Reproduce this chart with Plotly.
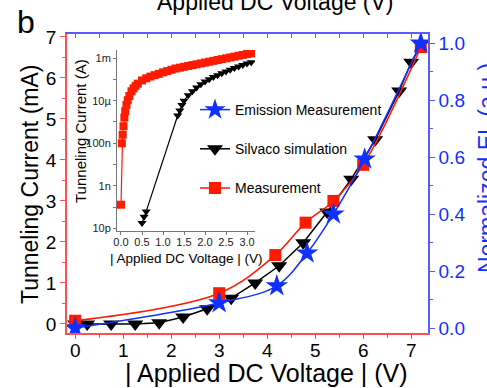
import plotly.graph_objects as go

# ---- main panel data ----
meas_v = [0.0, 3.0, 4.17, 4.8, 5.38, 6.0, 7.2]
meas_ma = [0.08, 0.75, 1.68, 2.47, 3.0, 3.88, 6.75]

sim_v = [0.0, 0.25, 0.75, 1.25, 1.75, 2.25, 2.75, 3.25, 3.75, 4.25, 4.75,
         5.25, 5.75, 6.25, 6.75, 7.0, 7.2]
sim_ma = [0.0, 0.0, 0.0, 0.0, 0.03, 0.17, 0.37, 0.63, 1.0, 1.42, 1.98,
          2.73, 3.53, 4.49, 5.68, 6.38, 6.8]

el_v = [0.0, 3.0, 4.2, 4.83, 5.38, 6.03, 7.2]
el_norm = [0.0, 0.088, 0.148, 0.263, 0.40, 0.593, 1.0]

# ---- inset (log current) data ----
ins_meas_v = [0.0, 0.02, 0.04, 0.06, 0.08, 0.10, 0.13, 0.16, 0.20, 0.25, 0.30,
              0.35, 0.40, 0.50, 0.60, 0.70, 0.80, 0.90, 1.00, 1.10, 1.20, 1.30,
              1.40, 1.50, 1.60, 1.70, 1.80, 1.90, 2.00, 2.10, 2.20, 2.30, 2.40,
              2.50, 2.60, 2.70, 2.80, 2.90, 3.00, 3.10]
ins_meas_a = [1.3e-10, 1.0e-7, 2.5e-7, 6.3e-7, 1.6e-6, 3.2e-6, 6.3e-6, 1.05e-5,
              1.66e-5, 2.75e-5, 3.8e-5, 5.0e-5, 6.3e-5, 8.9e-5, 1.12e-4, 1.35e-4,
              1.58e-4, 1.82e-4, 2.14e-4, 2.45e-4, 2.82e-4, 3.24e-4, 3.55e-4,
              3.89e-4, 4.27e-4, 4.68e-4, 5.13e-4, 5.62e-4, 6.17e-4, 6.76e-4,
              7.41e-4, 8.13e-4, 8.91e-4, 9.77e-4, 1.07e-3, 1.17e-3, 1.29e-3,
              1.41e-3, 1.55e-3, 1.66e-3]

ins_sim_v = [0.50, 0.55, 0.60, 1.35, 1.40, 1.45, 1.50, 1.60, 1.70, 1.80, 1.90,
             2.00, 2.10, 2.20, 2.30, 2.40, 2.50, 2.60, 2.70, 2.80, 2.90, 3.00, 3.10]
ins_sim_a = [1.8e-11, 3.5e-11, 6.3e-11, 2.0e-6, 3.5e-6, 6.3e-6, 1.0e-5, 1.78e-5,
             2.8e-5, 4.2e-5, 5.9e-5, 7.9e-5, 1.02e-4, 1.29e-4, 1.58e-4, 1.95e-4,
             2.34e-4, 2.82e-4, 3.39e-4, 3.98e-4, 4.68e-4, 5.5e-4, 6.3e-4]

ins_tickvals = [1e-11, 1e-10, 1e-9, 1e-8, 1e-7, 1e-6, 1e-5, 1e-4, 1e-3]
ins_ticktext = ["10p", "", "1n", "", "100n", "", "10µ", "", "1m"]

RED = "#ff1a00"
BLUE = "#1030ff"
RED_AX = "#ff5050"
BLUE_AX = "#5a5aff"
FONT = "Liberation Sans, Arial, sans-serif"

W, H = 487, 388
L, R, T, B = 67, 428, 34, 333  # plot area in pixels


def px(x):
    return (x - L) / (R - L)


def py(y):
    return (B - y) / (B - T)


fig = go.Figure()

fig.add_trace(go.Scatter(
    x=el_v, y=el_norm, xaxis="x3", yaxis="y2", name="Emission Measurement",
    mode="lines+markers", line=dict(color=BLUE, width=1.5, shape="spline"),
    marker=dict(symbol="star", size=17, color=BLUE), legendgroup="a"))
fig.add_trace(go.Scatter(
    x=sim_v, y=sim_ma, xaxis="x", yaxis="y", name="Silvaco simulation",
    mode="lines+markers", line=dict(color="black", width=1.5),
    marker=dict(symbol="triangle-down", size=14, color="black"), legendgroup="b"))
fig.add_trace(go.Scatter(
    x=meas_v, y=meas_ma, xaxis="x", yaxis="y", name="Measurement",
    mode="lines+markers", line=dict(color=RED, width=1.5, shape="spline"),
    marker=dict(symbol="square", size=12, color=RED), legendgroup="c"))

# inset traces
fig.add_trace(go.Scatter(
    x=ins_meas_v, y=ins_meas_a, xaxis="x2", yaxis="y3", showlegend=False,
    mode="lines+markers", line=dict(color=RED, width=1.2),
    marker=dict(symbol="square", size=8, color=RED)))
fig.add_trace(go.Scatter(
    x=ins_sim_v, y=ins_sim_a, xaxis="x2", yaxis="y3", showlegend=False,
    mode="lines+markers", line=dict(color="black", width=1.2),
    marker=dict(symbol="triangle-down", size=8, color="black")))

tickfont = dict(family=FONT, size=19, color="black")
inset_font = dict(family=FONT, size=11, color="#222")

fig.update_layout(
    width=W, height=H,
    margin=dict(l=L, r=W - R, t=T, b=H - B, pad=0),
    paper_bgcolor="white", plot_bgcolor="white",
    font=dict(family=FONT, color="black"),
    xaxis=dict(range=[-0.17, 7.35], domain=[0, 1], anchor="y",
               showline=True, linecolor=RED_AX, linewidth=1.5,
               ticks="outside", tickcolor=RED_AX, ticklen=4, tickwidth=1.2,
               tickvals=list(range(8)), tickfont=tickfont,
               ticklabelstandoff=-5,
               minor=dict(ticks="outside", dtick=0.5, ticklen=3, tickcolor=RED_AX),
               showgrid=False, zeroline=False),
    xaxis3=dict(range=[-0.17, 7.35], overlaying="x", side="top", anchor="y",
                showline=True, linecolor=BLUE_AX, linewidth=1.5,
                ticks="inside", tickcolor=BLUE_AX, ticklen=4, dtick=0.5,
                showticklabels=False, showgrid=False, zeroline=False),
    yaxis=dict(range=[-0.22, 7.07], domain=[0, 1], anchor="x",
               showline=True, linecolor=RED_AX, linewidth=1.5,
               ticks="outside", tickcolor=RED_AX, ticklen=5, tickwidth=1.2,
               tickvals=list(range(8)), tickfont=tickfont,
               minor=dict(ticks="outside", dtick=0.5, ticklen=3, tickcolor=RED_AX),
               showgrid=False, zeroline=False),
    yaxis2=dict(range=[-0.0175, 1.032], overlaying="y", side="right", anchor="x",
                showline=True, linecolor=BLUE_AX, linewidth=1.5,
                ticks="outside", tickcolor=BLUE_AX, ticklen=5, tickwidth=1.2,
                tickvals=[0, 0.2, 0.4, 0.6, 0.8, 1.0], tickformat=".1f",
                tickfont=dict(family=FONT, size=19, color=BLUE),
                minor=dict(ticks="outside", dtick=0.1, ticklen=3, tickcolor=BLUE_AX),
                showgrid=False, zeroline=False),
    xaxis2=dict(domain=[px(117), px(255)], range=[-0.095, 3.19], anchor="y3",
                showline=True, linecolor="#777", linewidth=1,
                ticks="outside", ticklen=3, tickcolor="#777",
                ticklabelstandoff=-2,
                tickvals=[0, 0.5, 1.0, 1.5, 2.0, 2.5, 3.0], tickformat=".1f",
                tickfont=inset_font, showgrid=False, zeroline=False),
    yaxis3=dict(domain=[py(231), py(50)], type="log", range=[-11.12, -2.62],
                anchor="x2", showline=True, linecolor="#777", linewidth=1,
                ticks="outside", ticklen=3, tickcolor="#777",
                tickvals=ins_tickvals, ticktext=ins_ticktext,
                tickfont=inset_font, showgrid=False, zeroline=False),
    legend=dict(x=px(195), y=py(94), xanchor="left", yanchor="top",
                bgcolor="rgba(0,0,0,0)", font=dict(family=FONT, size=14),
                tracegroupgap=18, traceorder="grouped", itemsizing="trace"),
)

ann = [
    dict(text="b", x=px(26), y=py(22), font=dict(size=32)),
    dict(text="Applied DC Voltage (V)", x=px(275), y=py(2), font=dict(size=23)),
    dict(text="| Applied DC Voltage | (V)", x=px(266), y=py(373), font=dict(size=25)),
    dict(text="Tunneling Current (mA)", x=px(30), y=py(185), textangle=-90,
         font=dict(size=23)),
    dict(text="Normalized EL (a.u.)", x=px(487), y=py(168), textangle=-90,
         font=dict(size=23, color=BLUE)),
    dict(text="Tunneling Current (A)", x=px(80), y=py(131), textangle=-90,
         font=dict(size=15)),
    dict(text="| Applied DC Voltage | (V)", x=px(186), y=py(258), font=dict(size=13.5)),
]
for a in ann:
    a.update(xref="paper", yref="paper", showarrow=False,
             xanchor="center", yanchor="middle")
    a["font"] = dict(family=FONT, color=a["font"].get("color", "black"),
                     size=a["font"]["size"])
fig.update_layout(annotations=ann)

fig.write_html("out.html")
